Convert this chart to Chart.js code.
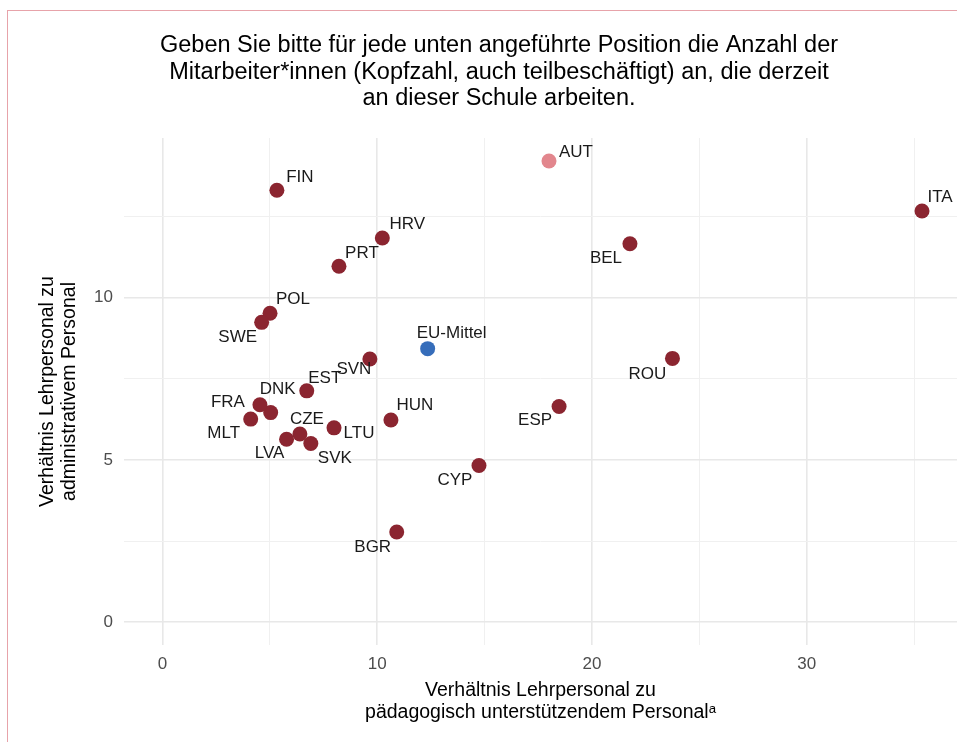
<!DOCTYPE html>
<html>
<head>
<meta charset="utf-8">
<script src="https://cdn.jsdelivr.net/npm/chart.js@4.4.1/dist/chart.umd.min.js"></script>
<style>
  html, body { margin: 0; padding: 0; background: #fff; overflow: hidden; }
  #wrap { position: relative; width: 957px; height: 742px; }
  #frame { position: absolute; left: 7px; top: 10px; right: -5px; bottom: -5px;
           border-left: 1px solid #e7a3aa; border-top: 1px solid #e7a3aa; }
  canvas { position: absolute; left: 0; top: 0; }
</style>
</head>
<body>
<div id="wrap">
  <canvas id="myScatter" width="957" height="742"></canvas>
  <div id="frame"></div>
</div>
<script>
// Länder und Verhältniswerte
const countries = ['FIN', 'AUT', 'HRV', 'PRT', 'ITA', 'BEL', 'POL', 'SWE', 'EU-Mittel', 'SVN', 'ROU',
                   'EST', 'DNK', 'FRA', 'MLT', 'CZE', 'LVA', 'SVK', 'LTU', 'HUN', 'ESP', 'CYP', 'BGR']
const ratioPaedagogisch = [5.33, 18.0, 10.24, 8.22, 35.37, 21.77, 5.01, 4.62, 12.35, 9.66, 23.75,
                           6.72, 5.04, 4.54, 4.11, 6.40, 5.78, 6.91, 7.99, 10.64, 18.47, 14.74, 10.91]
const ratioAdministrativ = [13.31, 14.21, 11.84, 10.97, 12.67, 11.66, 9.52, 9.24, 8.43, 8.11, 8.13,
                            7.13, 6.46, 6.70, 6.26, 5.80, 5.64, 5.51, 5.99, 6.23, 6.65, 4.83, 2.78]
const xTickLabels = [0, 10, 20, 30]
const yTickLabels = [0, 5, 10]

const titleLines = [
    'Geben Sie bitte für jede unten angeführte Position die Anzahl der',
    'Mitarbeiter*innen (Kopfzahl, auch teilbeschäftigt) an, die derzeit',
    'an dieser Schule arbeiten.'
]

// Farben je Punkt
const pointColor = (name) => {
    if (name === 'AUT') return 'rgb(226,134,141)'
    if (name === 'EU-Mittel') return 'rgb(54,109,186)'
    return 'rgb(139,37,48)'
}

// Label-Versatz (px) relativ zum Punkt, wie im Original
const labelOffset = {
    'FIN': [23, -13], 'AUT': [27, -9], 'HRV': [25, -14], 'PRT': [23, -13], 'ITA': [18, -14],
    'BEL': [-24, 14], 'POL': [23, -14], 'SWE': [-24, 15], 'EU-Mittel': [24, -15], 'SVN': [-16, 10],
    'ROU': [-25, 16], 'EST': [18, -13], 'DNK': [7, -23], 'FRA': [-32, -2], 'MLT': [-27, 14],
    'CZE': [7, -15], 'LVA': [-17, 14], 'SVK': [24, 15], 'LTU': [25, 5], 'HUN': [24, -15],
    'ESP': [-24, 14], 'CYP': [-24, 15], 'BGR': [-24, 15]
}

const points = countries.map((c, i) => ({ x: ratioPaedagogisch[i], y: ratioAdministrativ[i], label: c }))

const fontFamily = '"Liberation Sans", Arial, "DejaVu Sans", sans-serif'

const pointLabels = {
    id: 'pointLabels',
    afterDatasetsDraw(chart) {
        const ctx = chart.ctx
        const meta = chart.getDatasetMeta(0)
        ctx.save()
        ctx.font = '17px ' + fontFamily
        ctx.fillStyle = '#1a1a1a'
        ctx.textAlign = 'center'
        ctx.textBaseline = 'middle'
        meta.data.forEach((el, i) => {
            const name = countries[i]
            const off = labelOffset[name] || [0, 0]
            ctx.fillText(name, el.x + off[0], el.y + off[1])
        })
        ctx.restore()
    }
}

const titleBlock = {
    id: 'titleBlock',
    afterDraw(chart) {
        const ctx = chart.ctx
        ctx.save()
        ctx.font = '23.5px ' + fontFamily
        ctx.fillStyle = '#000'
        ctx.textAlign = 'center'
        ctx.textBaseline = 'middle'
        titleLines.forEach((line, i) => ctx.fillText(line, 499, 46 + i * 26.5))
        ctx.restore()
    }
}

const ctx = document.getElementById('myScatter')
const myChart = new Chart(ctx, {
    type: 'scatter',
    data: {
        datasets: [{
            data: points,
            backgroundColor: countries.map(pointColor),
            borderWidth: 0,
            pointRadius: 7.5,
            pointHoverRadius: 7.5
        }]
    },
    options: {
        responsive: false,
        animation: false,
        layout: { autoPadding: false, padding: { left: 0, right: 0, top: 138, bottom: 18 } },
        plugins: {
            legend: { display: false },
            tooltip: { enabled: false }
        },
        scales: {
            x: {
                type: 'linear',
                min: -1.79,
                max: 37,
                afterFit: (scale) => {
                    scale.height = 79
                    scale.paddingLeft = 0
                    scale.paddingRight = 0
                },
                border: { display: false },
                grid: {
                    drawTicks: false,
                    color: (c) => (c.tick && c.tick.value % 10 === 0) ? '#e8e8e8' : '#f0f0f0',
                    lineWidth: (c) => (c.tick && c.tick.value % 10 === 0) ? 1.6 : 1
                },
                ticks: {
                    stepSize: 5,
                    includeBounds: false,
                    maxRotation: 0,
                    autoSkip: false,
                    padding: 9,
                    color: '#4d4d4d',
                    font: { family: fontFamily, size: 17 },
                    callback: (v) => xTickLabels.includes(v) ? String(v) : ''
                },
                title: {
                    display: true,
                    text: ['Verhältnis Lehrpersonal zu', 'pädagogisch unterstützendem Personalᵃ'],
                    color: '#000',
                    font: { family: fontFamily, size: 19.5, lineHeight: '22px' },
                    padding: { top: 0, bottom: 0 }
                }
            },
            y: {
                type: 'linear',
                min: -0.7,
                max: 14.92,
                afterFit: (scale) => {
                    scale.width = 124
                    scale.paddingTop = 0
                    scale.paddingBottom = 0
                },
                border: { display: false },
                grid: {
                    drawTicks: false,
                    color: (c) => (c.tick && c.tick.value % 5 === 0) ? '#e8e8e8' : '#f0f0f0',
                    lineWidth: (c) => (c.tick && c.tick.value % 5 === 0) ? 1.6 : 1
                },
                ticks: {
                    stepSize: 2.5,
                    includeBounds: false,
                    autoSkip: false,
                    padding: 11,
                    color: '#4d4d4d',
                    font: { family: fontFamily, size: 17 },
                    callback: (v) => yTickLabels.includes(v) ? String(v) : ''
                },
                title: {
                    display: true,
                    text: ['Verhältnis Lehrpersonal zu', 'administrativem Personal'],
                    color: '#000',
                    font: { family: fontFamily, size: 19.5, lineHeight: '22px' },
                    padding: { top: 37, bottom: 0 }
                }
            }
        }
    },
    plugins: [pointLabels, titleBlock]
})
</script>
</body>
</html>
